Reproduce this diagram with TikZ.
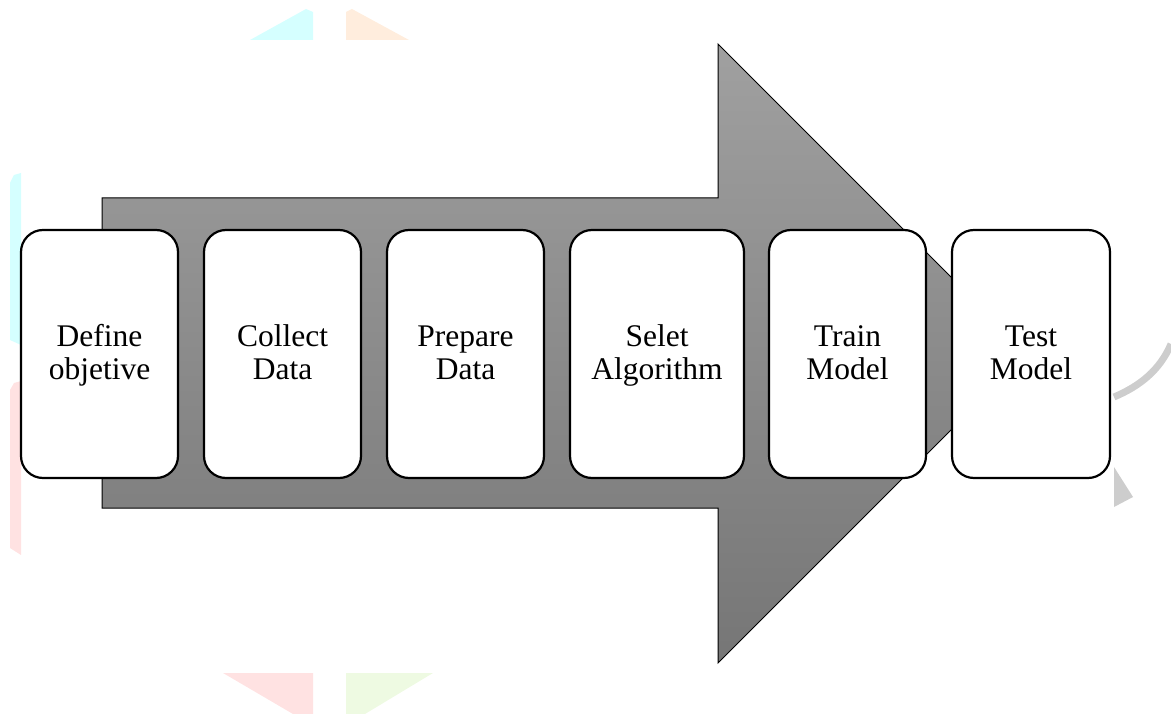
\documentclass[tikz,border=0pt]{standalone}
\usepackage{fontspec}
\setmainfont{Liberation Serif}
\definecolor{wmcyan}{RGB}{213,255,255}
\definecolor{wmorange}{RGB}{255,237,221}
\definecolor{wmpink}{RGB}{255,226,226}
\definecolor{wmgreen}{RGB}{238,250,226}
\definecolor{wmgray}{RGB}{205,205,205}
\definecolor{arrtop}{RGB}{160,160,160}
\definecolor{arrbot}{RGB}{118,118,118}
\newcommand\topstrt{\rule{0pt}{24pt}}
\newcommand\botstrt{\rule[-6pt]{0pt}{6pt}}
\tikzset{
  stepbox/.style={draw=black, line width=2.2pt, fill=white, rounded corners=22pt,
    minimum height=248pt, align=center, inner sep=0pt,
    font=\fontsize{31.5}{33}\selectfont},
  bigarrow/.style={draw=black, line width=1pt, top color=arrtop, bottom color=arrbot},
}
\begin{document}
\begin{tikzpicture}[x=1pt,y=-1pt]
\useasboundingbox (0,0) rectangle (1171,714);
% faint watermark fragments
\fill[wmcyan] (250,40) -- (306,9) -- (313,12) -- (313,40) -- cycle;
\fill[wmorange] (346,40) -- (346,12) -- (352,9) -- (409,40) -- cycle;
\fill[wmpink] (223,673) -- (313,673) -- (313,714) -- (293,714) -- cycle;
\fill[wmgreen] (346,673) -- (433,673) -- (365,714) -- (346,714) -- cycle;
\fill[wmcyan] (10,183) -- (14,175) -- (21,173) -- (21,345) -- (10,340) -- cycle;
\fill[wmpink] (10,390) -- (14,383) -- (21,381) -- (21,555) -- (10,548) -- cycle;
\draw[wmgray, line width=7pt] (1114,397) .. controls (1140,386) and (1160,370) .. (1171,344);
\fill[wmgray] (1114,467) -- (1133,497) -- (1114,507) -- cycle;
% big arrow
\path[bigarrow] (102,198) -- (718,198) -- (718,44) -- (1027.5,353.5) -- (718,663) -- (718,508) -- (102,508) -- cycle;
% steps
\node[stepbox, minimum width=157pt] (s1) at (99.5,354) {\topstrt Define\\objetive\botstrt};
\node[stepbox, minimum width=157pt] (s2) at (282.5,354) {\topstrt Collect\\Data\botstrt};
\node[stepbox, minimum width=157pt] (s3) at (465.5,354) {\topstrt Prepare\\Data\botstrt};
\node[stepbox, minimum width=174pt] (s4) at (657,354) {\topstrt Selet\\Algorithm\botstrt};
\node[stepbox, minimum width=157pt] (s5) at (847.5,354) {\topstrt Train\\Model\botstrt};
\node[stepbox, minimum width=158pt] (s6) at (1031,354) {\topstrt Test\\Model\botstrt};
\end{tikzpicture}
\end{document}
